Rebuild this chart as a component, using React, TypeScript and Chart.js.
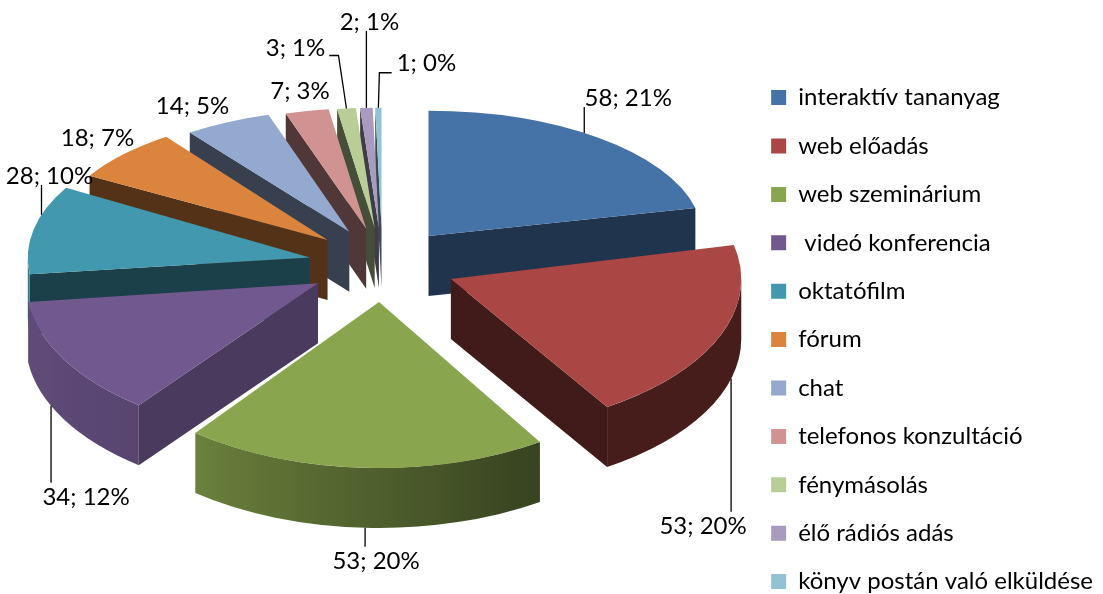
import React, { useEffect, useRef } from "react";
import { Chart, registerables } from "chart.js";

Chart.register(...registerables);

// ---- data ----
const categories = [
  "interaktív tananyag",
  "web előadás",
  "web szeminárium",
  " videó konferencia",
  "oktatófilm",
  "fórum",
  "chat",
  "telefonos konzultáció",
  "fénymásolás",
  "élő rádiós adás",
  "könyv postán való elküldése",
];
const counts = [58, 53, 53, 34, 28, 18, 14, 7, 3, 2, 1];
const percentLabels = [21, 20, 20, 12, 10, 7, 5, 3, 1, 1, 0];

// ---- styling ----
const sliceColors = [
  "#4572A7",
  "#AA4643",
  "#89A54E",
  "#71588F",
  "#4198AF",
  "#DB843D",
  "#93A9CF",
  "#D19392",
  "#B9CD96",
  "#A99BBD",
  "#92C3D5",
];

const FONT_FAMILY = "Lato, 'Open Sans', sans-serif";
const FONT_SIZE = 24;

const RX = 285; // horizontal radius on screen
const RY = 143; // vertical radius on screen (tilt)
const PERSP_Y = 0.16;
const PERSP_X = 0.05;
const EXPLODE = 74;
const DEPTH = 60;
const PIE_SHIFT_X = 9;
const PIE_SHIFT_Y = -44;

type LabelCfg = { frac: number; wall: boolean; dx: number; dy: number; leader: string };
const labelPlacement: LabelCfg[] = [
  { frac: 0.45, wall: false, dx: 44, dy: -35, leader: "up" },
  { frac: 0.4, wall: true, dx: -28, dy: 147, leader: "down" },
  { frac: 0.5, wall: true, dx: 11, dy: 33, leader: "down" },
  { frac: 0.625, wall: true, dx: 35, dy: 91, leader: "down" },
  { frac: 0.67, wall: false, dx: 8, dy: -39, leader: "up" },
  { frac: 0.5, wall: false, dx: -26, dy: -16, leader: "none" },
  { frac: 0.5, wall: false, dx: -35, dy: -16, leader: "none" },
  { frac: 0.5, wall: false, dx: -7, dy: -20, leader: "none" },
  { frac: 0.5, wall: false, dx: -51, dy: -60, leader: "elbowLeft" },
  { frac: 0.5, wall: false, dx: 3, dy: -86, leader: "up" },
  { frac: 0.5, wall: false, dx: 48, dy: -44, leader: "elbowRight" },
];

function shade(hex: string, f: number): string {
  const n = parseInt(hex.slice(1), 16);
  const r = Math.round(((n >> 16) & 255) * f);
  const g = Math.round(((n >> 8) & 255) * f);
  const b = Math.round((n & 255) * f);
  return `rgb(${r},${g},${b})`;
}

function wallFactor(deg: number): number {
  const pts = [
    [0, 0.41],
    [60, 0.41],
    [128, 0.78],
    [160, 0.84],
    [180, 0.84],
  ];
  if (deg <= pts[0][0]) return pts[0][1];
  for (let i = 1; i < pts.length; i++) {
    if (deg <= pts[i][0]) {
      const t = (deg - pts[i - 1][0]) / (pts[i][0] - pts[i - 1][0]);
      return pts[i - 1][1] + t * (pts[i][1] - pts[i - 1][1]);
    }
  }
  return pts[pts.length - 1][1];
}

function sliceGeometry(chart: any) {
  const arcs = chart.getDatasetMeta(0).data as any[];
  return arcs.map((arc: any, i: number) => {
    const s = arc.startAngle as number;
    const e = arc.endAngle as number;
    const m = (s + e) / 2;
    const cx = arc.x + PIE_SHIFT_X;
    const cy = arc.y + PIE_SHIFT_Y;
    const rx = RX * (1 + PERSP_X * Math.sin(m));
    const ry = RY * (1 + PERSP_Y * Math.sin(m));
    return {
      arc,
      i,
      s,
      e,
      m,
      rx,
      ry,
      Cx: cx + EXPLODE * Math.cos(m),
      Cy: cy + EXPLODE * (RY / RX) * Math.sin(m),
    };
  });
}

const pie3dPlugin = {
  id: "pie3d",
  beforeDatasetsDraw(chart: any) {
    const ctx: CanvasRenderingContext2D = chart.ctx;
    const geo = sliceGeometry(chart);
    const order = [...geo].sort((a, b) => Math.sin(a.m) - Math.sin(b.m));
    for (const g of order) {
      const base = sliceColors[g.i];
      const { Cx, Cy, rx, ry, s, e } = g;
      // radial faces
      const faces: [number, number][] = [];
      if (Math.cos(s) < -1e-6) faces.push([s, s - Math.PI / 2]);
      if (Math.cos(e) > 1e-6) faces.push([e, e + Math.PI / 2]);
      for (const [th, n] of faces) {
        const px = Cx + rx * Math.cos(th);
        const py = Cy + ry * Math.sin(th);
        ctx.beginPath();
        ctx.moveTo(Cx, Cy);
        ctx.lineTo(px, py);
        ctx.lineTo(px, py + DEPTH);
        ctx.lineTo(Cx, Cy + DEPTH);
        ctx.closePath();
        ctx.fillStyle = shade(base, 0.38 + 0.35 * Math.max(0, Math.cos(n)));
        ctx.fill();
      }
      // outer wall (front half only)
      const a0 = Math.max(s, 0);
      const a1 = Math.min(e, Math.PI);
      if (a1 > a0) {
        const xR = Cx + rx * Math.cos(a0);
        const xL = Cx + rx * Math.cos(a1);
        let fill: string | CanvasGradient;
        if (xR - xL < 1) {
          fill = shade(base, wallFactor(((a0 + a1) / 2) * (180 / Math.PI)));
        } else {
          const grad = ctx.createLinearGradient(xL, 0, xR, 0);
          const N = 16;
          for (let k = 0; k <= N; k++) {
            const a = a0 + ((a1 - a0) * k) / N;
            const x = Cx + rx * Math.cos(a);
            const pos = Math.min(1, Math.max(0, (x - xL) / (xR - xL)));
            grad.addColorStop(pos, shade(base, wallFactor((a * 180) / Math.PI)));
          }
          fill = grad;
        }
        ctx.beginPath();
        ctx.ellipse(Cx, Cy, rx, ry, 0, a0, a1, false);
        ctx.ellipse(Cx, Cy + DEPTH, rx, ry, 0, a1, a0, true);
        ctx.closePath();
        ctx.fillStyle = fill;
        ctx.fill();
      }
      // top face drawn by the library's arc element
      const R = g.arc.outerRadius;
      ctx.save();
      ctx.translate(Cx, Cy);
      ctx.scale(rx / R, ry / R);
      ctx.translate(-g.arc.x, -g.arc.y);
      g.arc.draw(ctx);
      ctx.restore();
    }
    return false;
  },
  afterDraw(chart: any) {
    const ctx: CanvasRenderingContext2D = chart.ctx;
    const geo = sliceGeometry(chart);
    ctx.save();
    ctx.font = `${FONT_SIZE}px ${FONT_FAMILY}`;
    ctx.fillStyle = "#000";
    ctx.strokeStyle = "#000";
    ctx.lineWidth = 1.3;
    ctx.textAlign = "center";
    ctx.textBaseline = "middle";
    geo.forEach((g) => {
      const cfg = labelPlacement[g.i];
      const a = g.s + cfg.frac * (g.e - g.s);
      const ax = g.Cx + g.rx * Math.cos(a);
      const ay = g.Cy + g.ry * Math.sin(a) + (cfg.wall ? DEPTH : 0);
      const lx = ax + cfg.dx;
      const ly = ay + cfg.dy;
      const text = `${counts[g.i]}; ${percentLabels[g.i]}%`;
      const w = ctx.measureText(text).width;
      ctx.beginPath();
      if (cfg.leader === "up") {
        ctx.moveTo(ax, ay);
        ctx.lineTo(ax, ly + 9);
      } else if (cfg.leader === "down") {
        ctx.moveTo(ax, ay);
        ctx.lineTo(ax, ly - 14);
      } else if (cfg.leader === "elbowLeft") {
        ctx.moveTo(ax, ay);
        ctx.lineTo(ax - 8, ly + 7);
        ctx.lineTo(lx + w / 2 + 4, ly + 7);
      } else if (cfg.leader === "elbowRight") {
        ctx.moveTo(ax, ay);
        ctx.lineTo(ax + 1, ly + 9);
        ctx.lineTo(lx - w / 2 - 5, ly + 9);
      }
      if (cfg.leader !== "none") ctx.stroke();
      ctx.fillText(text, lx, ly);
    });
    ctx.restore();
  },
};

export default function App() {
  const canvasRef = useRef<HTMLCanvasElement>(null);

  useEffect(() => {
    if (!canvasRef.current) return;
    const chart = new Chart(canvasRef.current, {
      type: "pie",
      data: {
        labels: categories,
        datasets: [
          {
            data: counts,
            backgroundColor: sliceColors,
            borderWidth: 0,
          },
        ],
      },
      options: {
        animation: false,
        responsive: true,
        maintainAspectRatio: false,
        events: [],
        layout: { padding: 0 },
        plugins: {
          tooltip: { enabled: false },
          legend: {
            position: "right",
            align: "end",
            labels: {
              boxWidth: 15,
              boxHeight: 15,
              padding: 24.4,
              color: "#000",
              font: { family: FONT_FAMILY, size: FONT_SIZE },
            },
          },
        },
      } as any,
      plugins: [pie3dPlugin as any],
    });
    return () => chart.destroy();
  }, []);

  return (
    <div
      style={{
        position: "fixed",
        left: 0,
        top: 0,
        width: 1103,
        height: 594,
        overflow: "hidden",
        background: "#fff",
      }}
    >
      <div style={{ position: "relative", width: 1103, height: 618 }}>
        <canvas ref={canvasRef} />
      </div>
    </div>
  );
}
